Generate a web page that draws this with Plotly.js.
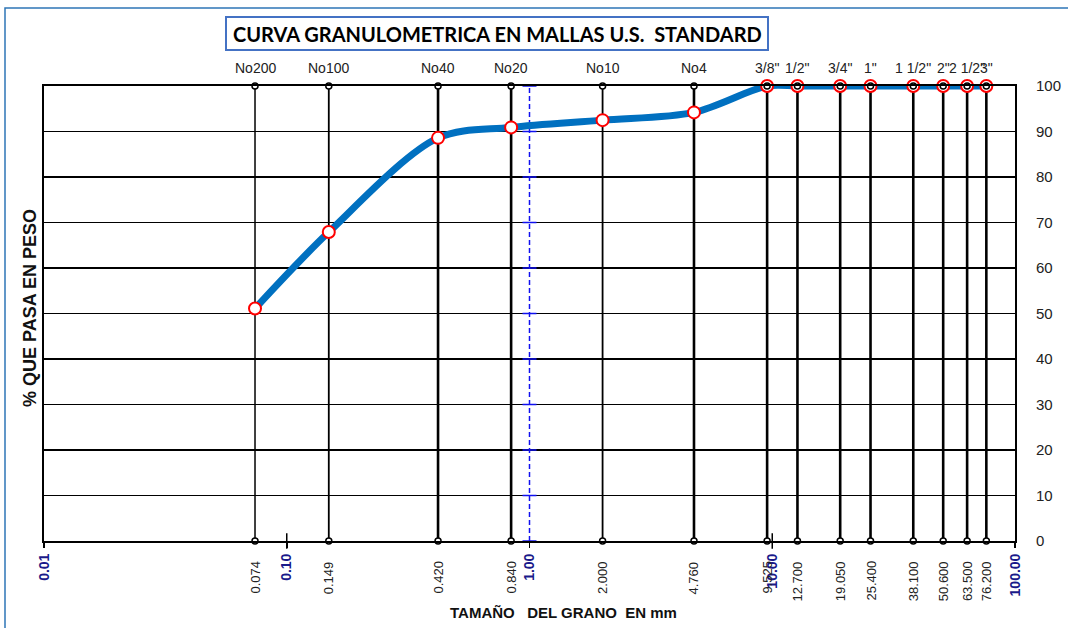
<!DOCTYPE html>
<html>
<head>
<meta charset="utf-8">
<script src="https://cdn.plot.ly/plotly-3.0.1.min.js"></script>
<style>html,body{margin:0;padding:0;background:#fff}#chart{width:1068px;height:628px}</style>
</head>
<body>
<div id="chart"></div>
<script>
// ---- data ----
const sieveNames = ["No200", "No100", "No40", "No20", "No10", "No4", "3/8\"", "1/2\"", "3/4\"", "1\"", "1 1/2\"", "2\"", "2 1/2\"", "3\""];
const sieveSizes = [0.074, 0.149, 0.420, 0.840, 2.000, 4.760, 9.525, 12.700, 19.050, 25.400, 38.100, 50.600, 63.500, 76.200];
const sizeLabels = ["0.074", "0.149", "0.420", "0.840", "2.000", "4.760", "9.525", "12.700", "19.050", "25.400", "38.100", "50.600", "63.500", "76.200"];
const percentPassing = [51.1, 67.9, 88.6, 90.9, 92.5, 94.2, 100, 100, 100, 100, 100, 100, 100, 100];
const xTickVals = [0.01, 0.1, 1, 10, 100];
const xTickText = ["0.01", "0.10", "1.00", "10.00", "100.00"];
const yTickVals = [0, 10, 20, 30, 40, 50, 60, 70, 80, 90, 100];
const yRange = [0, 100];
const referenceSize = 1;            // dashed blue reference line (1.00 mm)
const decadeMarks = [0.1, 10];      // small crossing ticks on the bottom axis

// ---- styles ----
const sieveLineWidths = [1.5, 1.8, 2.6, 2.6, 1.8, 2.6, 2.6, 2.6, 2.6, 2.6, 2.6, 2.6, 2.6, 2.6];
const W = 1068, H = 628;
const PL = 44, PR = 1015, PT = 86, PB = 541;
const px2x = p => (p - PL) / (PR - PL);
const py2y = p => (PB - p) / (PB - PT);
const FONT = "Liberation Sans, Arial, sans-serif";

const traces = [];

// sieve vertical lines
sieveSizes.forEach((s, i) => {
  traces.push({
    x: [s, s], y: [yRange[0], yRange[1]], mode: "lines",
    line: {color: "#000", width: sieveLineWidths[i]},
    hoverinfo: "skip", showlegend: false
  });
});

// dashed reference line at 1.00
traces.push({
  x: [referenceSize, referenceSize], y: [yRange[0], yRange[1]], mode: "lines",
  line: {color: "#1010F0", width: 1.5, dash: "5px,3px"},
  hoverinfo: "skip", showlegend: false
});
traces.push({
  x: yTickVals.map(() => referenceSize), y: yTickVals, mode: "markers",
  marker: {symbol: "line-ew", size: 10, line: {color: "#1010F0", width: 1.5}},
  hoverinfo: "skip", showlegend: false, cliponaxis: false
});

// crossing ticks at 0.1 and 10
traces.push({
  x: decadeMarks, y: decadeMarks.map(() => yRange[0]), mode: "markers",
  marker: {symbol: "line-ns", size: 11, line: {color: "#000", width: 1.5}},
  hoverinfo: "skip", showlegend: false, cliponaxis: false
});

// grading curve
traces.push({
  x: sieveSizes, y: percentPassing, mode: "lines+markers",
  line: {color: "#0070C0", width: 7, shape: "spline", smoothing: 0.9},
  marker: {size: 12, color: "#fff", line: {color: "#FF0000", width: 2}},
  showlegend: false, cliponaxis: false
});

// sieve end markers (top and bottom)
traces.push({
  x: sieveSizes.concat(sieveSizes),
  y: sieveSizes.map(() => yRange[1]).concat(sieveSizes.map(() => yRange[0])),
  mode: "markers",
  marker: {size: 6, color: "#fff", line: {color: "#000", width: 1.5}},
  hoverinfo: "skip", showlegend: false, cliponaxis: false
});

const annotations = [];
sieveNames.forEach((n, i) => {
  annotations.push({
    x: Math.log10(sieveSizes[i]), xref: "x", y: py2y(68), yref: "paper",
    text: n, showarrow: false, xanchor: "center", yanchor: "middle",
    font: {family: FONT, size: 14, color: "#222"}
  });
  annotations.push({
    x: Math.log10(sieveSizes[i]), xref: "x", y: py2y(559), yref: "paper",
    text: sizeLabels[i], showarrow: false, textangle: -90,
    xanchor: "center", yanchor: "top",
    font: {family: FONT, size: 13, color: "#222"}
  });
});
annotations.push({
  x: px2x(497), xref: "paper", y: py2y(34), yref: "paper",
  text: "CURVA GRANULOMETRICA EN MALLAS U.S.  STANDARD", showarrow: false,
  xanchor: "center", yanchor: "middle",
  font: {family: "Lato, Carlito, sans-serif", size: 20, color: "#000", weight: "bold"}
});
annotations.push({
  x: px2x(30), xref: "paper", y: py2y(308), yref: "paper",
  text: "% QUE PASA EN PESO", showarrow: false, textangle: -90,
  xanchor: "center", yanchor: "middle",
  font: {family: FONT, size: 18, color: "#111", weight: "bold"}
});
annotations.push({
  x: px2x(563), xref: "paper", y: py2y(612), yref: "paper",
  text: "TAMAÑO\u00a0\u00a0\u00a0DEL GRANO\u00a0\u00a0EN mm", showarrow: false,
  xanchor: "center", yanchor: "middle",
  font: {family: FONT, size: 15, color: "#111", weight: "bold"}
});

const shapes = [
  {type: "rect", xref: "paper", yref: "paper",
   x0: px2x(5), x1: px2x(1080), y0: py2y(8), y1: py2y(640),
   line: {color: "#2E75B6", width: 1.5}, fillcolor: "rgba(0,0,0,0)"},
  {type: "rect", xref: "paper", yref: "paper",
   x0: px2x(226), x1: px2x(768), y0: py2y(50), y1: py2y(17),
   line: {color: "#4472C4", width: 2}, fillcolor: "#fff"}
];

const layout = {
  width: W, height: H,
  margin: {l: PL, r: W - PR, t: PT, b: H - PB, pad: 0},
  paper_bgcolor: "#fff", plot_bgcolor: "#fff",
  showlegend: false,
  xaxis: {
    type: "log", range: [Math.log10(xTickVals[0]), Math.log10(xTickVals[xTickVals.length - 1])],
    tickvals: xTickVals, ticktext: xTickText, tickangle: -90,
    ticks: "outside", ticklen: 5, tickwidth: 1.5, tickcolor: "#000",
    tickfont: {family: FONT, size: 14, color: "#1A1A8A", weight: "bold"},
    showgrid: false, zeroline: false,
    showline: true, mirror: true, linecolor: "#000", linewidth: 2
  },
  yaxis: {
    range: yRange, side: "right", tickvals: yTickVals,
    ticks: "", ticklabelstandoff: 16,
    tickfont: {family: FONT, size: 15, color: "#222"},
    showgrid: true, gridcolor: "#000", gridwidth: 1.5, zeroline: false,
    showline: true, mirror: true, linecolor: "#000", linewidth: 2
  },
  annotations: annotations,
  shapes: shapes
};

Plotly.newPlot("chart", traces, layout, {staticPlot: true, displayModeBar: false});
</script>
</body>
</html>
